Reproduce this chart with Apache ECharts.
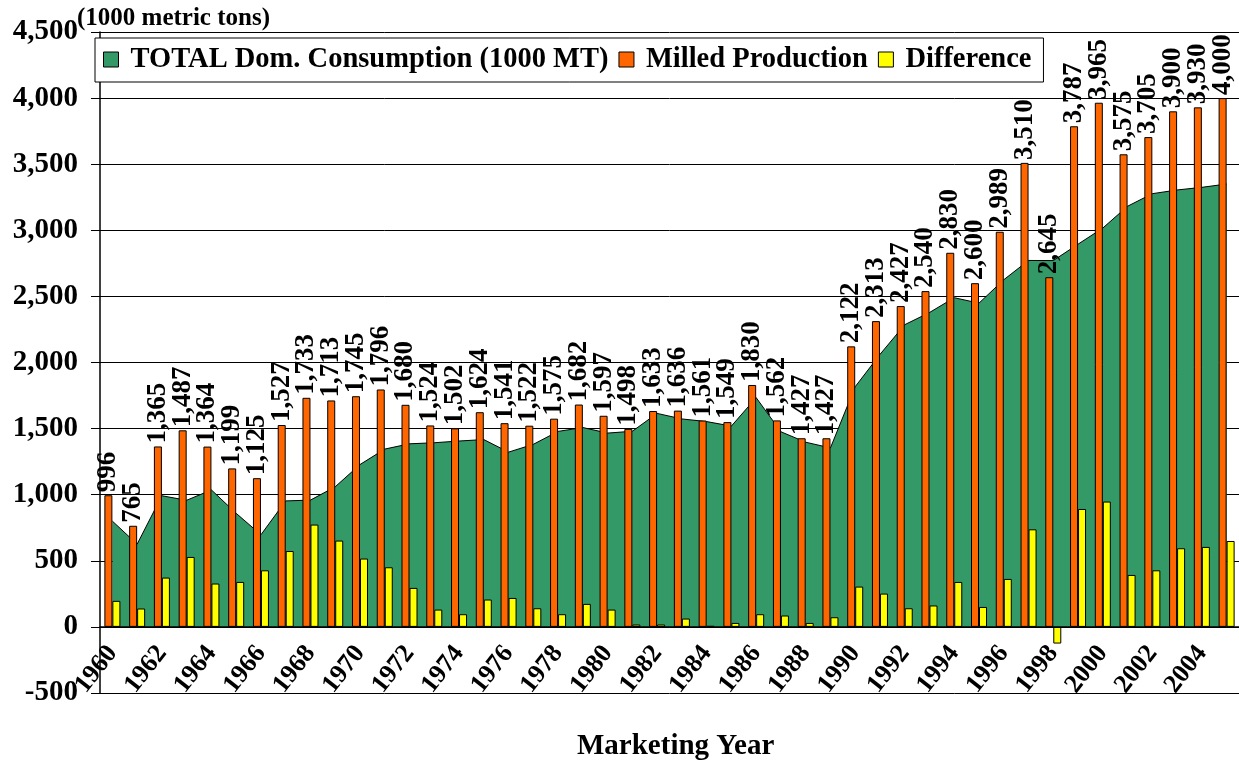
<!DOCTYPE html>
<html>
<head>
<meta charset="utf-8">
<script src="https://cdn.jsdelivr.net/npm/echarts@6/dist/echarts.min.js"></script>
<style>
  html, body { margin: 0; padding: 0; background: #fff; }
  #chart { width: 1239px; height: 761px; }
</style>
</head>
<body>
<div id="chart"></div>
<script>
// marketing years
var years = ['1960','1961','1962','1963','1964','1965','1966','1967','1968','1969',
  '1970','1971','1972','1973','1974','1975','1976','1977','1978','1979',
  '1980','1981','1982','1983','1984','1985','1986','1987','1988','1989',
  '1990','1991','1992','1993','1994','1995','1996','1997','1998','1999',
  '2000','2001','2002','2003','2004','2005'];

// milled production (labelled on the bars)
var production = [996, 765, 1365, 1487, 1364, 1199, 1125, 1527, 1733, 1713,
  1745, 1796, 1680, 1524, 1502, 1624, 1541, 1522, 1575, 1682,
  1597, 1498, 1633, 1636, 1561, 1549, 1830, 1562, 1427, 1427,
  2122, 2313, 2427, 2540, 2830, 2600, 2989, 3510, 2645, 3787,
  3965, 3575, 3705, 3900, 3930, 4000];

// total domestic consumption
var consumption = [800, 626, 992, 958, 1036, 859, 697, 953, 959, 1060,
  1228, 1345, 1385, 1393, 1406, 1417, 1322, 1381, 1479, 1508,
  1466, 1480, 1615, 1573, 1553, 1519, 1734, 1476, 1397, 1354,
  1817, 2061, 2286, 2378, 2490, 2449, 2626, 2772, 2771, 2895,
  3017, 3182, 3277, 3305, 3325, 3350];

// difference (yellow bars)
var difference = [197, 139, 373, 529, 328, 340, 428, 574, 774, 653,
  517, 451, 295, 131, 96, 207, 219, 141, 96, 174,
  131, 18, 18, 63, 8, 30, 96, 86, 30, 73,
  305, 252, 141, 162, 340, 151, 363, 738, -126, 892,
  948, 393, 428, 595, 605, 650];

var yTicks = { min: -500, max: 4500, step: 500 };

var serif = '"Liberation Serif", "Times New Roman", serif';
function fmt(v) { return Number(v).toLocaleString('en-US'); }

var myChart = echarts.init(document.getElementById('chart'));

var option = {
  backgroundColor: '#fff',
  animation: false,
  textStyle: { fontFamily: serif, fontWeight: 'bold', color: '#000' },
  grid: { left: 100, top: 32, width: 1142, height: 661, containLabel: false },
  title: [
    { text: '(1000 metric tons)', left: 72, top: 1,
      textStyle: { fontFamily: serif, fontWeight: 'bold', fontSize: 25, color: '#000' } },
    { text: 'Marketing Year', left: 572, top: 727,
      textStyle: { fontFamily: serif, fontWeight: 'bold', fontSize: 29, color: '#000' } }
  ],
  legend: {
    left: 95, top: 38,
    padding: [7, 12, 8, 8],
    itemGap: 10,
    itemWidth: 15, itemHeight: 15,
    selectedMode: false,
    backgroundColor: '#fff',
    borderColor: '#000', borderWidth: 1,
    textStyle: { fontFamily: serif, fontWeight: 'bold', fontSize: 28.5, color: '#000',
      padding: [0, 0, 0, 7] },
    data: [
      { name: 'TOTAL Dom. Consumption (1000 MT)', icon: 'rect',
        itemStyle: { color: '#339966', borderColor: '#000', borderWidth: 1 } },
      { name: 'Milled Production', icon: 'rect',
        itemStyle: { color: '#FF6600', borderColor: '#000', borderWidth: 1 } },
      { name: 'Difference', icon: 'rect',
        itemStyle: { color: '#FFFF00', borderColor: '#000', borderWidth: 1 } }
    ]
  },
  xAxis: {
    type: 'category',
    data: years,
    z: 5,
    offset: -66.1,
    axisLine: { onZero: false, lineStyle: { color: '#000', width: 1.5 } },
    axisTick: { interval: 0, length: 6, lineStyle: { color: '#000' } },
    axisLabel: {
      interval: 1, rotate: 52, margin: 22,
      fontFamily: serif, fontWeight: 'bold', fontSize: 26, color: '#000'
    },
    splitLine: { show: false }
  },
  yAxis: {
    type: 'value',
    min: yTicks.min, max: yTicks.max, interval: yTicks.step,
    axisLine: { show: true, lineStyle: { color: '#000', width: 1.5 } },
    axisTick: { show: true, length: 9, lineStyle: { color: '#000' } },
    axisLabel: {
      margin: 22, formatter: fmt,
      fontFamily: serif, fontWeight: 'bold', fontSize: 29, color: '#000'
    },
    splitLine: { show: true, lineStyle: { color: '#000', width: 1 } }
  },
  series: [
    {
      name: 'TOTAL Dom. Consumption (1000 MT)',
      type: 'line',
      z: 1,
      data: consumption,
      symbol: 'none',
      lineStyle: { color: '#000', width: 1 },
      itemStyle: { color: '#339966' },
      areaStyle: { color: '#339966', opacity: 1 }
    },
    {
      name: 'Milled Production',
      type: 'bar',
      z: 3,
      data: production,
      barWidth: 8,
      barGap: '0%',
      itemStyle: { color: '#FF6600', borderColor: '#000', borderWidth: 1 },
      label: {
        show: true, position: 'top', rotate: 90, align: 'left', verticalAlign: 'middle',
        distance: 3, formatter: function (p) { return fmt(p.value); },
        fontFamily: serif, fontWeight: 'bold', fontSize: 27, color: '#000'
      }
    },
    {
      name: 'Difference',
      type: 'bar',
      z: 3,
      data: difference,
      barWidth: 8,
      barGap: '0%',
      itemStyle: { color: '#FFFF00', borderColor: '#000', borderWidth: 1 }
    }
  ]
};

myChart.setOption(option);
</script>
</body>
</html>
